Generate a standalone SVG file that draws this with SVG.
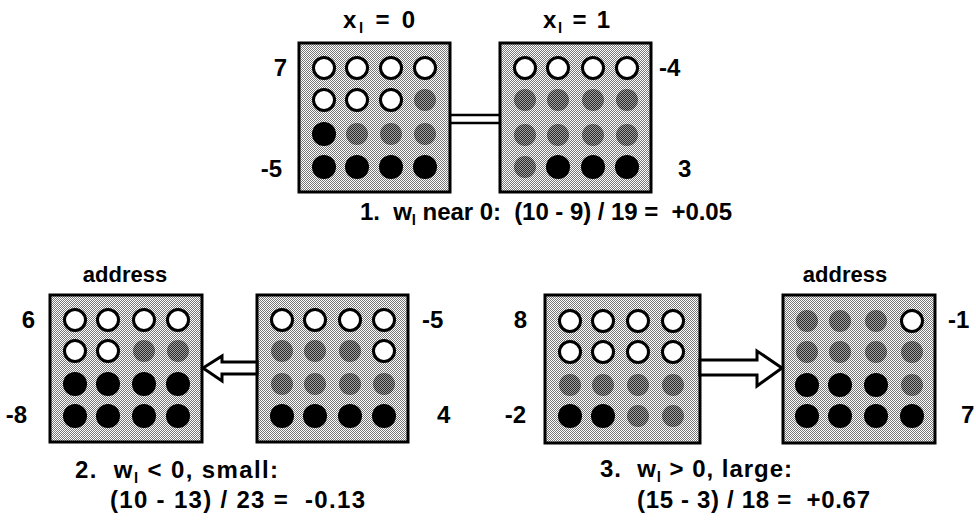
<svg xmlns="http://www.w3.org/2000/svg" width="976" height="528" viewBox="0 0 976 528">
<defs>
<pattern id="bg" width="2" height="2" patternUnits="userSpaceOnUse"><rect width="2" height="2" fill="#fff"/><rect width="1" height="1" fill="#777"/><rect x="1" y="1" width="1" height="1" fill="#777"/></pattern>
<pattern id="dk" width="2" height="2" patternUnits="userSpaceOnUse"><rect width="2" height="2" fill="#a0a0a0"/><rect width="1" height="1" fill="#2a2a2a"/><rect x="1" y="1" width="1" height="1" fill="#2a2a2a"/></pattern>
<style>
.box{fill:url(#bg);stroke:#000;stroke-width:3}
.w{fill:#fff;stroke:#000;stroke-width:3}
.b{fill:#000}
.g{fill:url(#dk)}
text{font-family:"Liberation Sans",Arial,sans-serif;font-weight:bold;fill:#000;font-size:24px;white-space:pre}
.sub{font-size:15px}
.addr{font-size:22px}
.conn{fill:#fff;stroke:#000;stroke-width:3;stroke-linejoin:miter}
</style>
</defs>

<g id="box-top-left" transform="translate(299,43)">
<rect class="box" width="151" height="149"/>
<circle class="w" cx="25" cy="25" r="10.5"/><circle class="w" cx="58" cy="25" r="10.5"/><circle class="w" cx="92" cy="25" r="10.5"/><circle class="w" cx="126" cy="25" r="10.5"/>
<circle class="w" cx="25" cy="57" r="10.5"/><circle class="w" cx="58" cy="57" r="10.5"/><circle class="w" cx="92" cy="57" r="10.5"/><circle class="g" cx="126" cy="57" r="11"/>
<circle class="b" cx="25" cy="91" r="12"/><circle class="g" cx="58" cy="91" r="11"/><circle class="g" cx="92" cy="91" r="11"/><circle class="g" cx="126" cy="91" r="11"/>
<circle class="b" cx="25" cy="124" r="12"/><circle class="b" cx="58" cy="124" r="12"/><circle class="b" cx="92" cy="124" r="12"/><circle class="b" cx="126" cy="124" r="12"/>
</g>

<g id="box-top-right" transform="translate(500,43)">
<rect class="box" width="151" height="149"/>
<circle class="w" cx="25" cy="25" r="10.5"/><circle class="w" cx="58" cy="25" r="10.5"/><circle class="w" cx="93" cy="25" r="10.5"/><circle class="w" cx="127" cy="25" r="10.5"/>
<circle class="g" cx="25" cy="57" r="11"/><circle class="g" cx="58" cy="57" r="11"/><circle class="g" cx="93" cy="57" r="11"/><circle class="g" cx="127" cy="57" r="11"/>
<circle class="g" cx="25" cy="92" r="11"/><circle class="g" cx="58" cy="92" r="11"/><circle class="g" cx="93" cy="92" r="11"/><circle class="g" cx="127" cy="92" r="11"/>
<circle class="g" cx="25" cy="124" r="11"/><circle class="b" cx="58" cy="124" r="12"/><circle class="b" cx="93" cy="124" r="12"/><circle class="b" cx="127" cy="124" r="12"/>
</g>

<g id="box-bottom-left-address" transform="translate(50,295)">
<rect class="box" width="152" height="147"/>
<circle class="w" cx="25" cy="25" r="10.5"/><circle class="w" cx="58" cy="25" r="10.5"/><circle class="w" cx="94" cy="25" r="10.5"/><circle class="w" cx="128" cy="25" r="10.5"/>
<circle class="w" cx="25" cy="56" r="10.5"/><circle class="w" cx="58" cy="56" r="10.5"/><circle class="g" cx="94" cy="56" r="11"/><circle class="g" cx="128" cy="56" r="11"/>
<circle class="b" cx="25" cy="89" r="12"/><circle class="b" cx="58" cy="89" r="12"/><circle class="b" cx="94" cy="89" r="12"/><circle class="b" cx="128" cy="89" r="12"/>
<circle class="b" cx="25" cy="121" r="12"/><circle class="b" cx="58" cy="121" r="12"/><circle class="b" cx="94" cy="121" r="12"/><circle class="b" cx="128" cy="121" r="12"/>
</g>

<g id="box-bottom-left-source" transform="translate(257,295)">
<rect class="box" width="151" height="147"/>
<circle class="w" cx="25" cy="25" r="10.5"/><circle class="w" cx="58" cy="25" r="10.5"/><circle class="w" cx="93" cy="25" r="10.5"/><circle class="w" cx="127" cy="25" r="10.5"/>
<circle class="g" cx="25" cy="56" r="11"/><circle class="g" cx="58" cy="56" r="11"/><circle class="g" cx="93" cy="56" r="11"/><circle class="w" cx="127" cy="56" r="10.5"/>
<circle class="g" cx="25" cy="89" r="11"/><circle class="g" cx="58" cy="89" r="11"/><circle class="g" cx="93" cy="89" r="11"/><circle class="g" cx="127" cy="89" r="11"/>
<circle class="b" cx="25" cy="121" r="12"/><circle class="b" cx="58" cy="121" r="12"/><circle class="b" cx="93" cy="121" r="12"/><circle class="b" cx="127" cy="121" r="12"/>
</g>

<g id="box-bottom-right-source" transform="translate(545,295)">
<rect class="box" width="155" height="148"/>
<circle class="w" cx="25" cy="26" r="10.5"/><circle class="w" cx="58" cy="26" r="10.5"/><circle class="w" cx="93" cy="26" r="10.5"/><circle class="w" cx="128" cy="26" r="10.5"/>
<circle class="w" cx="25" cy="57" r="10.5"/><circle class="w" cx="58" cy="57" r="10.5"/><circle class="w" cx="93" cy="57" r="10.5"/><circle class="w" cx="128" cy="57" r="10.5"/>
<circle class="g" cx="25" cy="90" r="11"/><circle class="g" cx="58" cy="90" r="11"/><circle class="g" cx="93" cy="90" r="11"/><circle class="g" cx="128" cy="90" r="11"/>
<circle class="b" cx="25" cy="121" r="12"/><circle class="b" cx="58" cy="121" r="12"/><circle class="g" cx="93" cy="121" r="11"/><circle class="g" cx="128" cy="121" r="11"/>
</g>

<g id="box-bottom-right-address" transform="translate(783,295)">
<rect class="box" width="152" height="148"/>
<circle class="g" cx="24" cy="26" r="11"/><circle class="g" cx="57" cy="26" r="11"/><circle class="g" cx="93" cy="26" r="11"/><circle class="w" cx="129" cy="26" r="10.5"/>
<circle class="g" cx="24" cy="57" r="11"/><circle class="g" cx="57" cy="57" r="11"/><circle class="g" cx="93" cy="57" r="11"/><circle class="g" cx="129" cy="57" r="11"/>
<circle class="b" cx="24" cy="90" r="12"/><circle class="b" cx="57" cy="90" r="12"/><circle class="b" cx="93" cy="90" r="12"/><circle class="g" cx="129" cy="90" r="11"/>
<circle class="b" cx="24" cy="121" r="12"/><circle class="b" cx="57" cy="121" r="12"/><circle class="b" cx="93" cy="121" r="12"/><circle class="b" cx="129" cy="121" r="12"/>
</g>

<g id="connectors">
<line x1="450" y1="115" x2="500" y2="115" stroke="#000" stroke-width="2.5"/>
<line x1="450" y1="123" x2="500" y2="123" stroke="#000" stroke-width="2.5"/>
<polygon class="conn" points="203,368 222,356 222,362 257,362 257,374 222,374 222,381"/>
<polygon class="conn" points="782,368 757,351 757,360 700,360 700,375 757,375 757,386"/>
</g>

<g id="labels">
<text x="343" y="28" textLength="72" lengthAdjust="spacing">x<tspan class="sub" dy="5">l</tspan><tspan dy="-5"> = 0</tspan></text>
<text x="543" y="28" textLength="67" lengthAdjust="spacing">x<tspan class="sub" dy="5">l</tspan><tspan dy="-5"> = 1</tspan></text>
<text x="287" y="76" text-anchor="end">7</text>
<text x="282" y="177" text-anchor="end">-5</text>
<text x="659" y="76">-4</text>
<text x="678" y="177">3</text>
<text x="360" y="220" textLength="372" lengthAdjust="spacing">1.  w<tspan class="sub" dy="5">l</tspan><tspan dy="-5"> near 0:  (10 - 9) / 19 =  +0.05</tspan></text>

<text class="addr" x="125" y="282" text-anchor="middle">address</text>
<text x="35" y="328" text-anchor="end">6</text>
<text x="27" y="423" text-anchor="end">-8</text>
<text x="422" y="328">-5</text>
<text x="437" y="423">4</text>
<text x="75" y="478" textLength="203" lengthAdjust="spacing">2.  w<tspan class="sub" dy="5">l</tspan><tspan dy="-5"> &lt; 0, small:</tspan></text>
<text x="110" y="508" textLength="255" lengthAdjust="spacing">(10 - 13) / 23 =  -0.13</text>

<text class="addr" x="845" y="282" text-anchor="middle">address</text>
<text x="527" y="328" text-anchor="end">8</text>
<text x="526" y="423" text-anchor="end">-2</text>
<text x="948" y="328">-1</text>
<text x="961" y="423">7</text>
<text x="600" y="477" textLength="192" lengthAdjust="spacing">3.  w<tspan class="sub" dy="5">l</tspan><tspan dy="-5"> &gt; 0, large:</tspan></text>
<text x="637" y="508" textLength="233" lengthAdjust="spacing">(15 - 3) / 18 =  +0.67</text>
</g>
</svg>
